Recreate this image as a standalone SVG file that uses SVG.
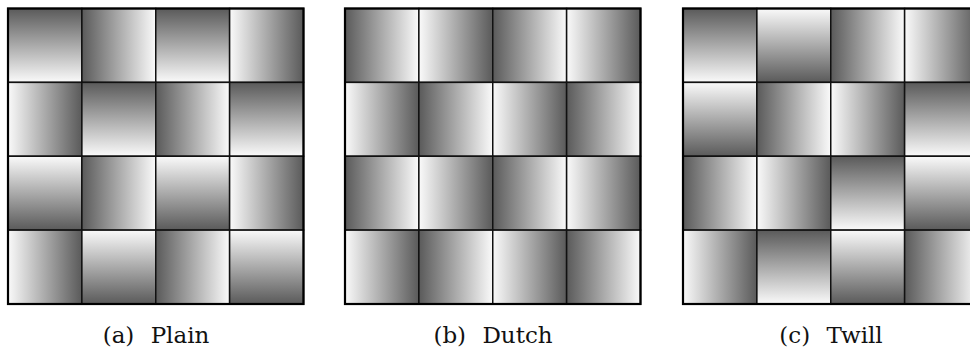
<svg xmlns="http://www.w3.org/2000/svg" width="970" height="347" viewBox="0 0 970 347">
<defs>
<linearGradient id="gT" x1="0" y1="0" x2="0" y2="1"><stop offset="0" stop-color="#5a5a5a"/><stop offset="1" stop-color="#fafafa"/></linearGradient>
<linearGradient id="gB" x1="0" y1="1" x2="0" y2="0"><stop offset="0" stop-color="#5a5a5a"/><stop offset="1" stop-color="#fafafa"/></linearGradient>
<linearGradient id="gL" x1="0" y1="0" x2="1" y2="0"><stop offset="0" stop-color="#5a5a5a"/><stop offset="1" stop-color="#fafafa"/></linearGradient>
<linearGradient id="gR" x1="1" y1="0" x2="0" y2="0"><stop offset="0" stop-color="#5a5a5a"/><stop offset="1" stop-color="#fafafa"/></linearGradient>
</defs>
<style>
.c{stroke:#111;stroke-width:1.5}
.T{fill:url(#gT)}.B{fill:url(#gB)}.L{fill:url(#gL)}.R{fill:url(#gR)}
.frame{fill:none;stroke:#000;stroke-width:2.2}
.cap{font-family:"DejaVu Serif","Liberation Serif",serif;font-size:23px;fill:#111;text-anchor:middle;word-spacing:9px}
</style>
<g id="plain">
<rect class="c T" x="8" y="8.5" width="73.875" height="73.875"/>
<rect class="c L" x="81.875" y="8.5" width="73.875" height="73.875"/>
<rect class="c T" x="155.75" y="8.5" width="73.875" height="73.875"/>
<rect class="c R" x="229.625" y="8.5" width="73.875" height="73.875"/>
<rect class="c R" x="8" y="82.375" width="73.875" height="73.875"/>
<rect class="c T" x="81.875" y="82.375" width="73.875" height="73.875"/>
<rect class="c L" x="155.75" y="82.375" width="73.875" height="73.875"/>
<rect class="c T" x="229.625" y="82.375" width="73.875" height="73.875"/>
<rect class="c B" x="8" y="156.25" width="73.875" height="73.875"/>
<rect class="c L" x="81.875" y="156.25" width="73.875" height="73.875"/>
<rect class="c B" x="155.75" y="156.25" width="73.875" height="73.875"/>
<rect class="c R" x="229.625" y="156.25" width="73.875" height="73.875"/>
<rect class="c R" x="8" y="230.125" width="73.875" height="73.875"/>
<rect class="c B" x="81.875" y="230.125" width="73.875" height="73.875"/>
<rect class="c L" x="155.75" y="230.125" width="73.875" height="73.875"/>
<rect class="c B" x="229.625" y="230.125" width="73.875" height="73.875"/>
<rect class="frame" x="8" y="8.5" width="295.5" height="295.5"/>
<text class="cap" x="156" y="342.5">(a) Plain</text>
</g>
<g id="dutch">
<rect class="c L" x="345" y="8.5" width="73.875" height="73.875"/>
<rect class="c R" x="418.875" y="8.5" width="73.875" height="73.875"/>
<rect class="c L" x="492.75" y="8.5" width="73.875" height="73.875"/>
<rect class="c R" x="566.625" y="8.5" width="73.875" height="73.875"/>
<rect class="c R" x="345" y="82.375" width="73.875" height="73.875"/>
<rect class="c L" x="418.875" y="82.375" width="73.875" height="73.875"/>
<rect class="c R" x="492.75" y="82.375" width="73.875" height="73.875"/>
<rect class="c L" x="566.625" y="82.375" width="73.875" height="73.875"/>
<rect class="c L" x="345" y="156.25" width="73.875" height="73.875"/>
<rect class="c R" x="418.875" y="156.25" width="73.875" height="73.875"/>
<rect class="c L" x="492.75" y="156.25" width="73.875" height="73.875"/>
<rect class="c R" x="566.625" y="156.25" width="73.875" height="73.875"/>
<rect class="c R" x="345" y="230.125" width="73.875" height="73.875"/>
<rect class="c L" x="418.875" y="230.125" width="73.875" height="73.875"/>
<rect class="c R" x="492.75" y="230.125" width="73.875" height="73.875"/>
<rect class="c L" x="566.625" y="230.125" width="73.875" height="73.875"/>
<rect class="frame" x="345" y="8.5" width="295.5" height="295.5"/>
<text class="cap" x="493" y="342.5">(b) Dutch</text>
</g>
<g id="twill">
<rect class="c T" x="683" y="8.5" width="73.875" height="73.875"/>
<rect class="c B" x="756.875" y="8.5" width="73.875" height="73.875"/>
<rect class="c L" x="830.75" y="8.5" width="73.875" height="73.875"/>
<rect class="c R" x="904.625" y="8.5" width="73.875" height="73.875"/>
<rect class="c B" x="683" y="82.375" width="73.875" height="73.875"/>
<rect class="c L" x="756.875" y="82.375" width="73.875" height="73.875"/>
<rect class="c R" x="830.75" y="82.375" width="73.875" height="73.875"/>
<rect class="c T" x="904.625" y="82.375" width="73.875" height="73.875"/>
<rect class="c L" x="683" y="156.25" width="73.875" height="73.875"/>
<rect class="c R" x="756.875" y="156.25" width="73.875" height="73.875"/>
<rect class="c T" x="830.75" y="156.25" width="73.875" height="73.875"/>
<rect class="c B" x="904.625" y="156.25" width="73.875" height="73.875"/>
<rect class="c R" x="683" y="230.125" width="73.875" height="73.875"/>
<rect class="c T" x="756.875" y="230.125" width="73.875" height="73.875"/>
<rect class="c B" x="830.75" y="230.125" width="73.875" height="73.875"/>
<rect class="c L" x="904.625" y="230.125" width="73.875" height="73.875"/>
<rect class="frame" x="683" y="8.5" width="295.5" height="295.5"/>
<text class="cap" x="831" y="342.5">(c) Twill</text>
</g>
<g id="connectors"/>
</svg>
